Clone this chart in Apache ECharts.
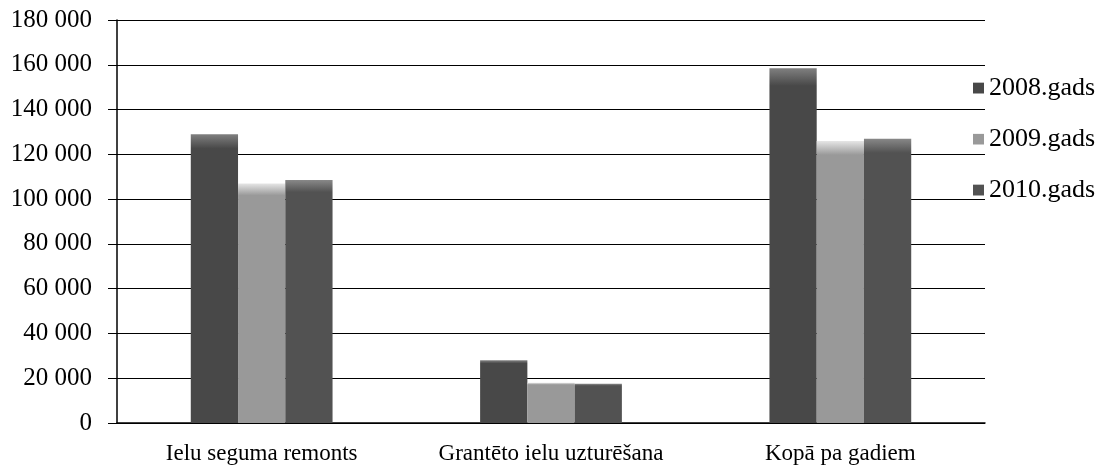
<!DOCTYPE html>
<html>
<head>
    <meta charset="utf-8">
    <title>ECharts</title>
    <script src="https://cdn.jsdelivr.net/npm/echarts@6/dist/echarts.min.js"></script>
    <style>
      html, body { margin: 0; padding: 0; background: #fff; }
    </style>
</head>
<body>
    <div id="chart" style="width: 1107px;height:475px;"></div>
    <script type="text/javascript">
    // dati
    var categories = ['Ielu seguma remonts', 'Grantēto ielu uzturēšana', 'Kopā pa gadiem'];
    var seriesNames = ['2008.gads', '2009.gads', '2010.gads'];
    var gads2008 = [129000, 28000, 158500];
    var gads2009 = [107000, 18000, 126000];
    var gads2010 = [108500, 17500, 127000];

    var font = '"Liberation Serif", "DejaVu Serif", serif';

    function grad(top, body) {
      return new echarts.graphic.LinearGradient(0, 0, 0, 1, [
        { offset: 0, color: top },
        { offset: 0.05, color: body },
        { offset: 1, color: body }
      ]);
    }

    function fmt(v) {
      return String(v).replace(/\B(?=(\d{3})+(?!\d))/g, ' ');
    }

    var chart = echarts.init(document.getElementById('chart'));
    var option = {
        animation: false,
        backgroundColor: '#fff',
        grid: { left: 117, right: 122, top: 20, bottom: 52 },
        legend: {
            orient: 'vertical',
            left: 968,
            top: 70,
            itemGap: 25,
            itemWidth: 11,
            itemHeight: 11,
            icon: 'rect',
            textStyle: { fontFamily: font, fontSize: 26, color: '#000' },
            data: seriesNames
        },
        xAxis: {
            type: 'category',
            data: categories,
            axisLine: { lineStyle: { color: '#000', width: 1.5 } },
            axisTick: { show: false },
            axisLabel: { interval: 0, margin: 19, fontFamily: font, fontSize: 23, color: '#000' }
        },
        yAxis: {
            type: 'value',
            min: 0,
            max: 180000,
            interval: 20000,
            axisLine: { show: true, lineStyle: { color: '#000', width: 1.5 } },
            axisTick: { show: true, length: 9, lineStyle: { color: '#000' } },
            splitLine: { lineStyle: { color: '#000', width: 1 } },
            axisLabel: { margin: 25, fontFamily: font, fontSize: 25, color: '#000', formatter: fmt }
        },
        series: [
            { name: seriesNames[0], type: 'bar', data: gads2008, barGap: '0%', barCategoryGap: '51%',
              itemStyle: { color: grad('#808080', '#484848') } },
            { name: seriesNames[1], type: 'bar', data: gads2009,
              itemStyle: { color: grad('#e6e6e6', '#999999') } },
            { name: seriesNames[2], type: 'bar', data: gads2010,
              itemStyle: { color: grad('#888888', '#525252') } }
        ]
    };
    chart.setOption(option);
    </script>
</body>
</html>
